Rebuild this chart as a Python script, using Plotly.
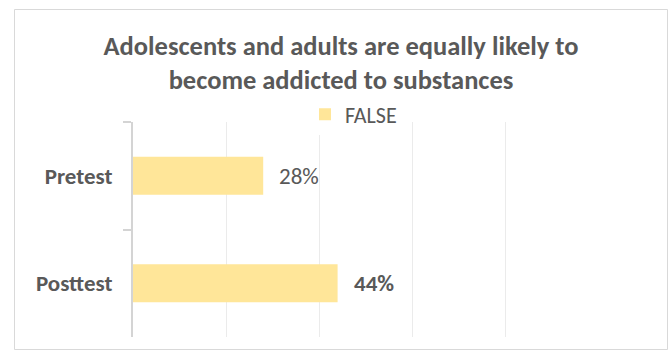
import plotly.graph_objects as go

categories = ["Pretest", "Posttest"]
values = [28, 44]
label_bold = [False, True]
series_name = "FALSE"
title_text = "Adolescents and adults are equally likely to<br>become addicted to substances"

W, H = 672, 352
L, R, T, B = 133, 74, 122, 15
pw, ph = W - L - R, H - T - B

FONT = "Carlito, Calibri, Lato, sans-serif"
GREY = "#595959"

fig = go.Figure()
fig.add_trace(go.Bar(
    y=categories, x=values, orientation="h", name=series_name,
    marker=dict(color="#FFE699", line=dict(width=0)),
    hoverinfo="skip",
))

annotations = []
for c, v, b in zip(categories, values, label_bold):
    txt = f"{v}%"
    if b:
        txt = f"<b>{txt}</b>"
    annotations.append(dict(
        x=v, y=c, xref="x", yref="y", text=txt, showarrow=False,
        xanchor="left", yanchor="middle", xshift=14,
        font=dict(family=FONT, size=23, color=GREY),
    ))

def px_x(p):
    return (p - L) / pw

def px_y(p):
    return 1 - (p - T) / ph

fig.update_layout(
    width=W, height=H,
    margin=dict(l=L, r=R, t=T, b=B),
    paper_bgcolor="white", plot_bgcolor="white",
    font=dict(family=FONT, color=GREY),
    title=dict(
        text=f"<b>{title_text}</b>",
        x=(W / 2 + 5) / W, xanchor="center",
        y=1 - 54.5 / H, yanchor="middle", yref="container",
        font=dict(family=FONT, size=26.5, color=GREY),
    ),
    showlegend=True,
    legend=dict(
        orientation="h", x=0.5 - 12 / pw, xanchor="center",
        y=1.035, yanchor="middle",
        font=dict(family=FONT, size=22, color=GREY),
        itemclick=False, itemdoubleclick=False,
    ),
    bargap=0.645,
    xaxis=dict(
        range=[0, 100], dtick=20, showticklabels=False,
        showgrid=True, gridcolor="#EBEBEB", gridwidth=1,
        zeroline=False, showline=False, fixedrange=True,
    ),
    yaxis=dict(
        autorange="reversed", type="category",
        showline=True, linecolor="#D4D4D4", linewidth=2,
        ticks="outside", tickson="boundaries", ticklen=8,
        tickcolor="#D4D4D4", tickwidth=2,
        ticklabelstandoff=14,
        tickfont=dict(family=FONT, size=23, color=GREY, weight="bold"),
        showgrid=False, fixedrange=True,
    ),
    annotations=annotations,
    shapes=[dict(
        type="rect", xref="paper", yref="paper",
        x0=px_x(14.5), x1=px_x(667.5), y0=px_y(349.5), y1=px_y(9.5),
        line=dict(color="#D9D9D9", width=1), fillcolor="rgba(0,0,0,0)",
        layer="below",
    )],
)

fig.write_html("out.html", config=dict(displayModeBar=False))
